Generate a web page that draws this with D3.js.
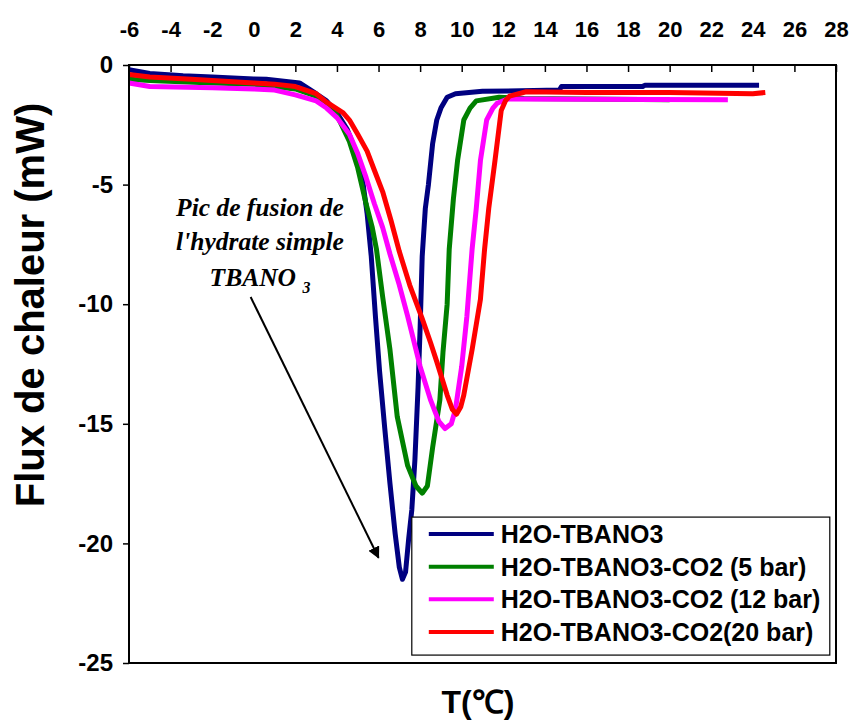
<!DOCTYPE html>
<html>
<head>
<meta charset="utf-8">
<script src="https://cdnjs.cloudflare.com/ajax/libs/d3/7.8.5/d3.min.js"></script>
<style>
  body { margin: 0; background: #fff; }
  svg text { font-family: "Liberation Sans", Arial, sans-serif; font-weight: bold; }
</style>
</head>
<body>
<svg id="chart"></svg>
<script>
// temperature ticks (top axis) and heat-flux ticks
const xTicks = [-6, -4, -2, 0, 2, 4, 6, 8, 10, 12, 14, 16, 18, 20, 22, 24, 26, 28];
const yTicks = [0, -5, -10, -15, -20, -25];

const names = [
  "H2O-TBANO3",
  "H2O-TBANO3-CO2 (5 bar)",
  "H2O-TBANO3-CO2 (12 bar)",
  "H2O-TBANO3-CO2(20 bar)"
];
const colors = ["#000080", "#008000", "#ff00ff", "#ff0000"];

// H2O-TBANO3
const tempA = [-6, -5, -3.4, -2, 0, 0.6, 2.2, 3, 3.5, 4, 4.5, 4.9, 5.2, 5.45, 5.65, 5.85, 6.05, 6.3, 6.55, 6.8, 7.0, 7.15, 7.3, 7.45, 7.6, 7.75, 7.9, 8.0, 8.1, 8.25, 8.4, 8.6, 8.8, 9.0, 9.3, 9.7, 11, 14.7, 14.8, 18.7, 18.8, 24.3];
const fluxA = [-0.2, -0.35, -0.45, -0.5, -0.58, -0.6, -0.75, -1.2, -1.5, -2.0, -2.7, -3.6, -4.6, -6.2, -8.0, -10.5, -12.8, -15.2, -17.5, -19.6, -21.0, -21.5, -21.2, -19.8, -18.6, -16.5, -13.5, -11.0, -8.0, -6.0, -5.0, -3.3, -2.3, -1.8, -1.35, -1.2, -1.1, -1.05, -0.9, -0.9, -0.85, -0.85];

// H2O-TBANO3-CO2 (5 bar)
const tempB = [-6, -5, -2, 0, 2, 3, 3.5, 4, 4.6, 5.0, 5.4, 5.7, 5.9, 6.2, 6.55, 6.9, 7.4, 7.8, 8.1, 8.35, 8.6, 8.95, 9.1, 9.3, 9.4, 9.6, 9.8, 10.1, 10.4, 10.7, 11.8, 13, 20];
const fluxB = [-0.6, -0.65, -0.75, -0.8, -1.0, -1.3, -1.6, -2.1, -3.2, -4.3, -5.8, -6.8, -7.7, -9.7, -11.9, -14.7, -16.75, -17.6, -17.9, -17.6, -16.0, -14.0, -12.0, -10.0, -7.7, -5.6, -4.0, -2.3, -1.8, -1.5, -1.35, -1.4, -1.45];

// H2O-TBANO3-CO2 (12 bar)
const tempC = [-6, -5, -2, 0, 1, 2, 3, 3.5, 4.0, 4.6, 5.0, 5.4, 5.8, 6.2, 6.55, 7.0, 7.4, 8.0, 8.5, 8.9, 9.2, 9.5, 9.7, 10.0, 10.25, 10.5, 10.7, 10.9, 11.2, 11.5, 11.7, 12.2, 22.8];
const fluxC = [-0.75, -0.9, -0.95, -1.0, -1.05, -1.25, -1.5, -1.8, -2.2, -2.9, -3.7, -4.7, -5.8, -6.8, -7.9, -9.2, -10.5, -12.6, -14.0, -14.9, -15.2, -15.0, -14.4, -12.6, -10.5, -7.7, -6.0, -4.0, -2.3, -1.8, -1.6, -1.42, -1.45];

// H2O-TBANO3-CO2 (20 bar)
const tempD = [-6, -5, -3, 0, 1, 2, 3, 3.5, 4.3, 4.6, 5.0, 5.45, 5.8, 6.2, 6.6, 7.0, 7.5, 8.1, 8.5, 8.8, 9.3, 9.55, 9.75, 9.95, 10.1, 10.5, 10.9, 11.1, 11.3, 11.6, 11.9, 12.1, 12.3, 13.1, 16, 20, 24, 24.6];
const fluxD = [-0.4, -0.5, -0.6, -0.75, -0.8, -0.9, -1.2, -1.55, -2.0, -2.3, -2.9, -3.6, -4.4, -5.3, -6.5, -7.8, -9.2, -10.6, -11.6, -12.4, -13.8, -14.4, -14.6, -14.3, -13.8, -11.9, -9.8, -7.7, -6.0, -4.0, -1.9, -1.5, -1.3, -1.12, -1.15, -1.15, -1.2, -1.15];

const series = [
  { name: names[0], color: colors[0], t: tempA, f: fluxA },
  { name: names[1], color: colors[1], t: tempB, f: fluxB },
  { name: names[2], color: colors[2], t: tempC, f: fluxC },
  { name: names[3], color: colors[3], t: tempD, f: fluxD }
];

const W = 850, H = 722;
const margin = { top: 65, right: 14, bottom: 59, left: 129 };
const width = W - margin.left - margin.right;
const height = H - margin.top - margin.bottom;

const svg = d3.select("#chart").attr("width", W).attr("height", H);
const g = svg.append("g").attr("transform", `translate(${margin.left},${margin.top})`);

const x = d3.scaleLinear().domain([-6, 28]).range([0, width]);
const y = d3.scaleLinear().domain([0, -25]).range([0, height]);

// plain hyphen for negatives, like the original
const fmt = d => String(d);

// top axis, ticks pointing inside
const xAxis = d3.axisTop(x).tickValues(xTicks).tickSizeInner(-7).tickSizeOuter(0).tickFormat(fmt);
const gx = g.append("g").call(xAxis);
gx.select(".domain").remove();
gx.selectAll(".tick line").attr("stroke", "#000").attr("stroke-width", 1.5);
gx.selectAll(".tick text")
  .attr("y", -28)
  .attr("dy", 0)
  .style("font-size", "22px")
  .attr("fill", "#000");

const yAxis = d3.axisLeft(y).tickValues(yTicks).tickSizeInner(6).tickSizeOuter(0).tickPadding(10).tickFormat(fmt);
const gy = g.append("g").call(yAxis);
gy.select(".domain").remove();
gy.selectAll(".tick line").attr("stroke", "#000").attr("stroke-width", 1.5);
gy.selectAll(".tick text").style("font-size", "24px").attr("fill", "#000");

// curves
const line = d3.line().x(d => x(d[0])).y(d => y(d[1]));
series.forEach(s => {
  g.append("path")
    .datum(s.t.map((v, i) => [v, s.f[i]]))
    .attr("d", line)
    .attr("fill", "none")
    .attr("stroke", s.color)
    .attr("stroke-width", 5)
    .attr("stroke-linejoin", "round");
});

// frame
g.append("rect")
  .attr("x", 0).attr("y", 0)
  .attr("width", width).attr("height", height)
  .attr("fill", "none")
  .attr("stroke", "#000")
  .attr("stroke-width", 2);

// annotation
svg.append("defs").append("marker")
  .attr("id", "arrow")
  .attr("viewBox", "0 0 10 10")
  .attr("refX", 9).attr("refY", 5)
  .attr("markerWidth", 6).attr("markerHeight", 6)
  .attr("orient", "auto")
  .append("path").attr("d", "M0,0 L10,5 L0,10 z").attr("fill", "#000");

g.append("line")
  .attr("x1", x(-0.15)).attr("y1", y(-9.7))
  .attr("x2", x(6.0)).attr("y2", y(-20.6))
  .attr("stroke", "#000").attr("stroke-width", 2)
  .attr("marker-end", "url(#arrow)");

const note = g.append("text")
  .attr("text-anchor", "middle")
  .style("font-family", "'Liberation Serif', 'Times New Roman', serif")
  .style("font-style", "italic")
  .style("font-weight", "bold")
  .style("font-size", "25.5px")
  .attr("fill", "#000");
note.append("tspan").attr("x", x(0.3)).attr("y", y(-6.3)).text("Pic de fusion de");
note.append("tspan").attr("x", x(0.3)).attr("y", y(-7.75)).text("l'hydrate simple");
note.append("tspan").attr("x", x(0.3)).attr("y", y(-9.25)).text("TBANO ");
note.append("tspan").attr("dy", 7).style("font-size", "16px").text("3");

// legend
const lg = g.append("g").attr("transform", `translate(${x(7.6)},${y(-18.9)})`);
lg.append("rect")
  .attr("width", 418).attr("height", 138)
  .attr("fill", "#fff")
  .attr("stroke", "#000")
  .attr("stroke-width", 1.2);
series.forEach((s, i) => {
  const yy = 17 + i * 32.6;
  lg.append("line")
    .attr("x1", 17).attr("x2", 82)
    .attr("y1", yy).attr("y2", yy)
    .attr("stroke", s.color).attr("stroke-width", 4);
  lg.append("text")
    .attr("x", 89).attr("y", yy + 9)
    .style("font-size", "25px")
    .attr("fill", "#000")
    .text(s.name);
});

// axis titles
svg.append("text")
  .attr("transform", "translate(44,305) rotate(-90)")
  .attr("text-anchor", "middle")
  .style("font-size", "40px")
  .attr("fill", "#000")
  .text("Flux de chaleur (mW)");

svg.append("text")
  .attr("x", 478).attr("y", 713)
  .attr("text-anchor", "middle")
  .style("font-size", "32px")
  .attr("fill", "#000")
  .text("T(℃)");
</script>
</body>
</html>
